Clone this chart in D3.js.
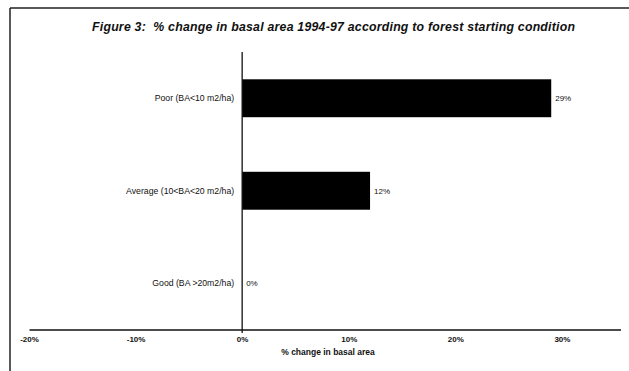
<!DOCTYPE html>
<html>
<head>
<meta charset="utf-8">
<script src="https://cdn.jsdelivr.net/npm/d3@7"></script>
<style>
  html, body { margin: 0; padding: 0; background: #fff; }
  svg { display: block; font-family: "Liberation Sans", Arial, sans-serif; }
</style>
</head>
<body>
<svg id="chart" width="629" height="371"></svg>
<script>
// Forest starting condition categories and % change in basal area 1994-97
const categories = ["Poor (BA<10 m2/ha)", "Average (10<BA<20 m2/ha)", "Good (BA >20m2/ha)"];
const changeValues = [0.29, 0.12, 0.0];
const valueLabels = ["29%", "12%", "0%"];
const tickValues = [-0.2, -0.1, 0, 0.1, 0.2, 0.3];
const tickLabels = ["-20%", "-10%", "0%", "10%", "20%", "30%"];

const svg = d3.select("#chart");

// Outer frame (top and left edges)
svg.append("line").attr("x1", 10).attr("y1", 8).attr("x2", 629).attr("y2", 8)
  .attr("stroke", "#222").attr("stroke-width", 1.5);
svg.append("line").attr("x1", 10).attr("y1", 8).attr("x2", 10).attr("y2", 371)
  .attr("stroke", "#222").attr("stroke-width", 1.5);

// Title
svg.append("text")
  .attr("x", 92).attr("y", 31)
  .attr("font-size", 12.3).attr("font-weight", "bold").attr("font-style", "italic")
  .attr("fill", "#111")
  .attr("textLength", 483).attr("lengthAdjust", "spacing")
  .style("white-space", "pre")
  .text("Figure 3:  % change in basal area 1994-97 according to forest starting condition");

const x = d3.scaleLinear().domain([-0.2, 0.355]).range([29, 620.5]);
const y = d3.scaleBand().domain(categories).range([52, 329.5])
  .paddingInner(0.59).paddingOuter(0.295);

// Bars
svg.append("g").selectAll("rect")
  .data(categories)
  .join("rect")
  .attr("x", (d, i) => x(Math.min(0, changeValues[i])))
  .attr("y", d => y(d))
  .attr("width", (d, i) => Math.abs(x(changeValues[i]) - x(0)))
  .attr("height", y.bandwidth())
  .attr("fill", "#000");

// Value labels
svg.append("g").selectAll("text")
  .data(categories)
  .join("text")
  .attr("x", (d, i) => x(changeValues[i]) + 4)
  .attr("y", d => y(d) + y.bandwidth() / 2)
  .attr("dy", "0.35em")
  .attr("font-size", 8)
  .attr("fill", "#111")
  .text((d, i) => valueLabels[i]);

// Horizontal value axis
const xAxis = d3.axisBottom(x)
  .tickValues(tickValues)
  .tickFormat((d, i) => tickLabels[i])
  .tickSize(0)
  .tickPadding(7);
const gx = svg.append("g").attr("transform", "translate(0,329.5)").call(xAxis);
gx.select(".domain").attr("stroke", "#111").attr("stroke-width", 1.3);
gx.selectAll("text")
  .attr("font-family", "'Liberation Sans', Arial, sans-serif")
  .attr("font-size", 8).attr("font-weight", "bold").attr("fill", "#111");

// Category axis at zero
const yAxis = d3.axisLeft(y).tickSize(0).tickPadding(8);
const gy = svg.append("g").attr("transform", `translate(${x(0)},0)`).call(yAxis);
gy.select(".domain").attr("stroke", "#111").attr("stroke-width", 1.3)
  .attr("d", `M0,52V333`);
gy.selectAll("text")
  .attr("font-family", "'Liberation Sans', Arial, sans-serif")
  .attr("font-size", 8.7).attr("fill", "#111");

// Axis title
svg.append("text")
  .attr("x", 328).attr("y", 355)
  .attr("text-anchor", "middle")
  .attr("font-size", 8.5).attr("font-weight", "bold")
  .attr("fill", "#111")
  .text("% change in basal area");
</script>
</body>
</html>
